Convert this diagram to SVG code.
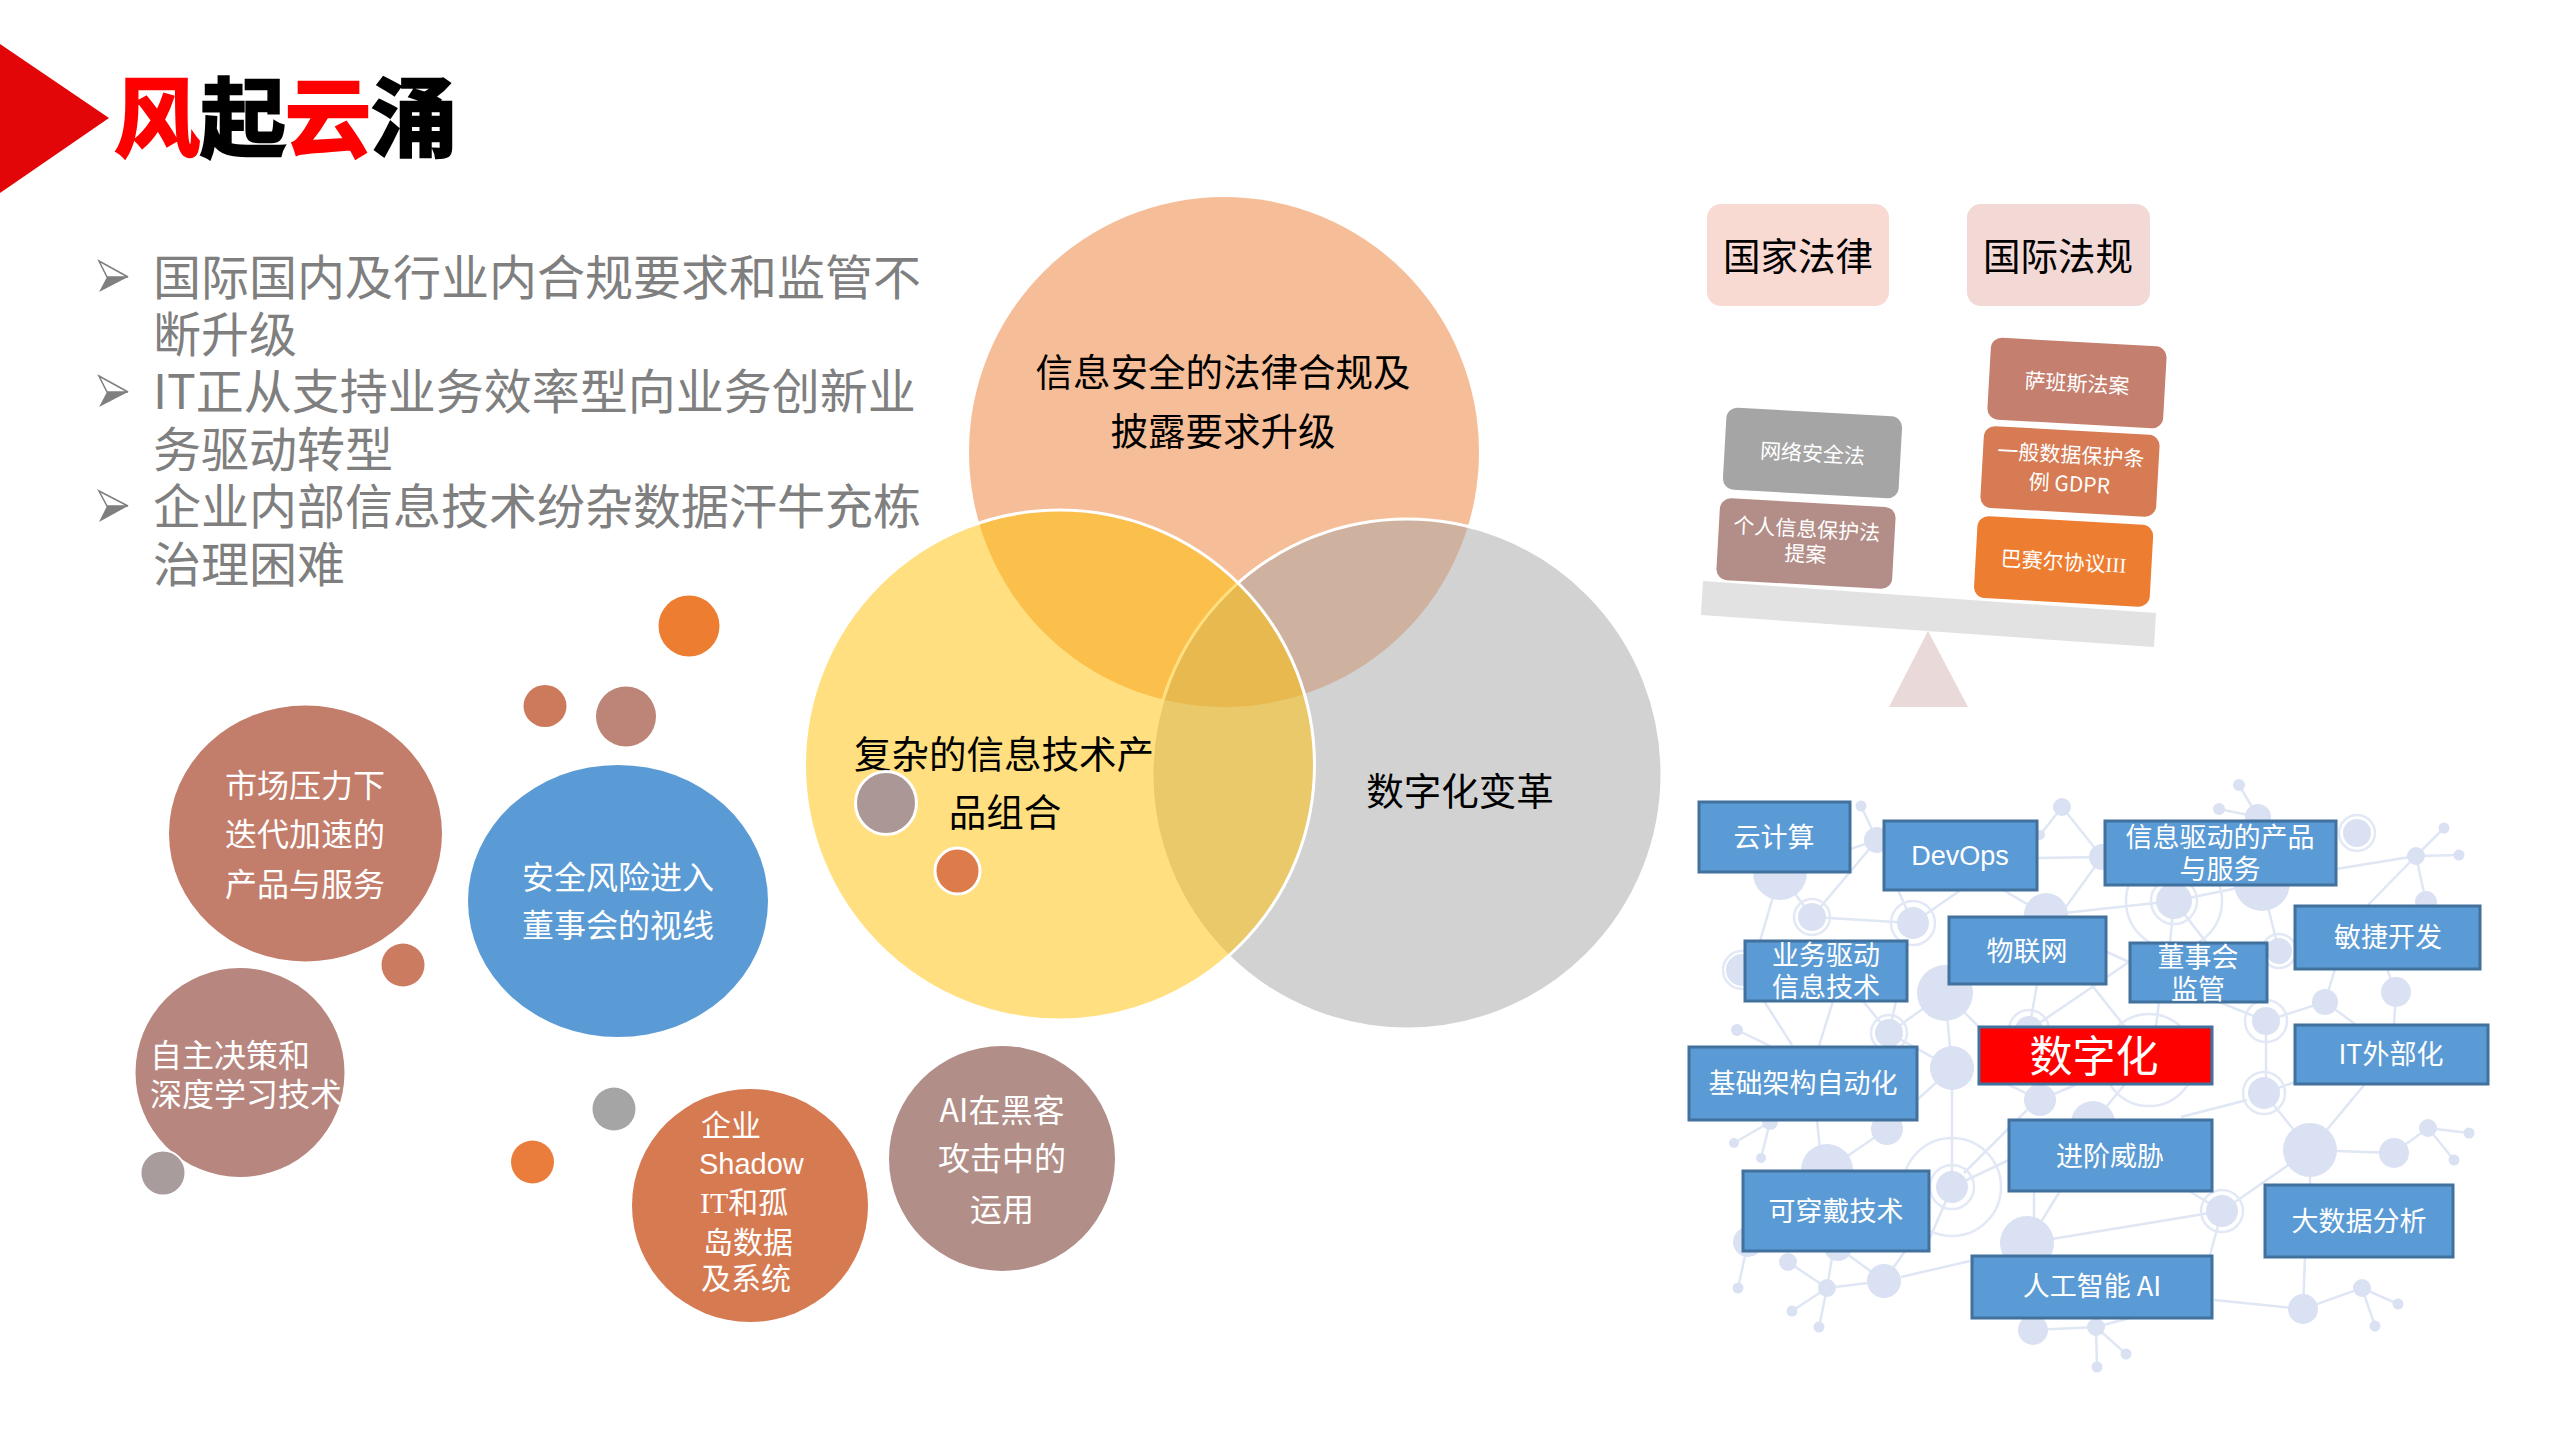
<svg xmlns="http://www.w3.org/2000/svg" width="2559" height="1439" viewBox="0 0 2559 1439">
<style>
text{font-family:"Noto Sans CJK SC","Noto Sans",sans-serif}
.lat{font-family:"Liberation Sans","Noto Sans CJK SC",sans-serif}
.b{font-size:48px;fill:#7f7f7f}
.w32{font-size:32px;fill:#fff;text-anchor:middle}
.w30{font-size:30px;fill:#fff}
.k{font-size:37.5px;fill:#000;text-anchor:middle}
.box rect{fill:#5b9bd5;stroke:#41719c;stroke-width:3}
.box text{font-size:27px;fill:#fff;text-anchor:middle}
.bal text{font-size:21px;fill:#fff;text-anchor:middle}
.net path{fill:none;stroke:#dfe6f4;stroke-width:2.5}
.net .n{fill:#d9e1f2}
.net .r{fill:none;stroke:#e2e8f5;stroke-width:2.5}
</style>
<rect width="2559" height="1439" fill="#fff"/>
<g id="header">
<polygon points="0,44 109,118 0,193" fill="#e30609"/>
<g font-size="86" font-weight="700" stroke-width="2.5">
<text x="114" y="150" fill="#f00" stroke="#f00">风</text>
<text x="200" y="150" fill="#000" stroke="#000">起</text>
<text x="285" y="150" fill="#f00" stroke="#f00">云</text>
<text x="371" y="150" fill="#000" stroke="#000">涌</text>
</g>
</g>
<g id="bullets">
<g id="bullet-1"><polygon points="99,261 128,277 107,277" fill="#fff" stroke="#7f7f7f" stroke-width="1.5"/><polygon points="99,292 128,277 107,277" fill="#7f7f7f"/></g>
<g id="bullet-2"><polygon points="99,376 128,392 107,392" fill="#fff" stroke="#7f7f7f" stroke-width="1.5"/><polygon points="99,407 128,392 107,392" fill="#7f7f7f"/></g>
<g id="bullet-3"><polygon points="99,491 128,506 107,506" fill="#fff" stroke="#7f7f7f" stroke-width="1.5"/><polygon points="99,522 128,506 107,506" fill="#7f7f7f"/></g>
<text class="b" x="153" y="295">国际国内及行业内合规要求和监管不</text>
<text class="b" x="153" y="352">断升级</text>
<text class="b" x="153" y="409">IT正从支持业务效率型向业务创新业</text>
<text class="b" x="153" y="467">务驱动转型</text>
<text class="b" x="153" y="524">企业内部信息技术纷杂数据汗牛充栋</text>
<text class="b" x="153" y="582">治理困难</text>
</g>
<g id="venn">
<circle id="venn-orange" cx="1224" cy="452" r="255" fill="#ed7d31" fill-opacity=".5"/>
<circle id="venn-gray" cx="1407" cy="774" r="255" fill="#a5a5a5" fill-opacity=".5"/>
<circle cx="1407" cy="774" r="255" fill="none" stroke="#fff" stroke-width="3"/>
<circle id="venn-yellow" cx="1059.5" cy="765" r="255" fill="#ffc000" fill-opacity=".5"/>
<circle cx="1059.5" cy="765" r="255" fill="none" stroke="#fff" stroke-width="3"/>
<text class="k" x="1223" y="386">信息安全的法律合规及</text>
<text class="k" x="1223" y="445">披露要求升级</text>
<text class="k" x="1004" y="768">复杂的信息技术产</text>
<text class="k" x="1005" y="826">品组合</text>
<text class="k" x="1460" y="805">数字化变革</text>
<ellipse cx="886" cy="803" rx="30.5" ry="31.5" fill="#ab9795" stroke="#fff" stroke-width="3"/>
<ellipse cx="957.5" cy="871" rx="22.5" ry="23" fill="#de7b4b" stroke="#fff" stroke-width="3"/>
</g>
<g id="bubbles">
<g id="bubble-market"><ellipse cx="305.5" cy="833.5" rx="136.5" ry="128" fill="#c37d6b"/>
<text class="w32" x="305" y="797">市场压力下</text><text class="w32" x="305" y="846">迭代加速的</text><text class="w32" x="305" y="896">产品与服务</text></g>
<g id="bubble-security"><ellipse cx="618" cy="901" rx="150" ry="136" fill="#5b9bd5"/>
<text class="w32" x="618" y="889">安全风险进入</text><text class="w32" x="618" y="937">董事会的视线</text></g>
<g id="bubble-auto"><circle cx="240" cy="1072.5" r="104.5" fill="#b7877f"/>
<text class="w32" style="text-anchor:start" x="150" y="1067">自主决策和</text><text class="w32" style="text-anchor:start" x="150" y="1106">深度学习技术</text></g>
<g id="bubble-shadow"><ellipse cx="750" cy="1205.5" rx="118" ry="116.5" fill="#d67a52"/>
<text class="w30" x="701" y="1136">企业</text><text class="w30 lat" x="699" y="1174" style="font-size:29px">Shadow</text><text class="w30" x="700" y="1213"><tspan font-family="Liberation Serif,serif">IT</tspan>和孤</text><text class="w30" x="703" y="1253">岛数据</text><text class="w30" x="701" y="1289">及系统</text></g>
<g id="bubble-ai"><ellipse cx="1002" cy="1158.5" rx="113" ry="112.5" fill="#b18e87"/>
<text class="w32" x="1002" y="1122">AI在黑客</text><text class="w32" x="1002" y="1170">攻击中的</text><text class="w32" x="1002" y="1221">运用</text></g>
<circle cx="689" cy="626" r="30.5" fill="#ed7d31"/>
<ellipse cx="545" cy="706" rx="21.5" ry="21" fill="#cd7a5c"/>
<ellipse cx="626" cy="716.5" rx="30" ry="30" fill="#bd8478"/>
<ellipse cx="403" cy="965" rx="21.5" ry="21.5" fill="#cb7b60"/>
<ellipse cx="163" cy="1173" rx="22.5" ry="22.5" fill="#a89c9c" stroke="#fff" stroke-width="2"/>
<circle cx="614" cy="1109" r="21.5" fill="#a5a5a5"/>
<circle cx="532.5" cy="1162" r="21.5" fill="#ea7d3c"/>
</g>
<g id="balance" class="bal">
<g id="law-national"><rect x="1707" y="204" width="182" height="102" rx="14" fill="#f8dad3"/><text x="1798" y="270" style="font-size:37.5px;fill:#000">国家法律</text></g>
<g id="law-intl"><rect x="1967" y="204" width="183" height="102" rx="14" fill="#f2d9d5"/><text x="2058" y="270" style="font-size:37.5px;fill:#000">国际法规</text></g>
<polygon id="fulcrum" points="1928,631 1968,707 1889,707" fill="#ead9d9"/>
<polygon id="beam" points="1703,581 2156,613 2154,647 1701,615" fill="#e2e2e2"/>
<g id="law-1" transform="translate(1812.5 453) rotate(3.2)"><rect x="-88" y="-41" width="176" height="82" rx="11" fill="#a5a5a5"/><text y="8">网络安全法</text></g>
<g id="law-2" transform="translate(1806 543.6) rotate(3.2)"><rect x="-88" y="-41" width="176" height="82" rx="11" fill="#b38e88"/><text y="-7">个人信息保护法</text><text y="18">提案</text></g>
<g id="law-3" transform="translate(2077 383) rotate(3.2)"><rect x="-88" y="-41" width="176" height="82" rx="11" fill="#c47f6e"/><text y="8">萨班斯法案</text></g>
<g id="law-4" transform="translate(2070 471.4) rotate(3.2)"><rect x="-88" y="-41" width="176" height="82" rx="11" fill="#d67b53"/><text y="-9">一般数据保护条</text><text y="20">例 GDPR</text></g>
<g id="law-5" transform="translate(2063.6 561.4) rotate(3.2)"><rect x="-88" y="-41" width="176" height="82" rx="11" fill="#ed7d31"/><text y="8">巴赛尔协议<tspan font-family="Liberation Serif,serif">III</tspan></text></g>
</g>
<g id="connectors" class="net">
<path d="M1861 806L1877 840L1780 873L1812 917L1877 840M1780 873L1760 941M1812 917L1913 923M1898 890L1913 923L2040 835L2062 807L2102 857L2037 858M2102 857L2060 915M2003 890L2046 915L2174 901L2262 883M2336 869L2416 856L2444 828M2416 856L2459 855M2416 856L2426 902M2416 856L2368 905M2239 785L2258 817L2262 883L2279 951M2219 809L2258 817M2174 901L2206 942M2174 901L2170 942M2387 969L2396 992L2394 1024M2335 969L2325 1002L2266 1021L2219 1002M2325 1002L2355 1024M2266 1021L2266 1093M1945 993L1889 1033L1952 1068L1945 993L1979 1027M1764 1001L1792 1045M1833 1001L1819 1046M1863 1001L1889 1033L1896 1001M1737 1030L1770 1046M2037 984L2029 1030L2129 962M2091 984L2125 1027M2159 1002L2156 1027M2107 952L2129 962M2005 1083L2040 1100L2080 1083M2027 1110L1964 1173M2125 1084L2093 1123M2247 1100L2181 1117M2264 1093L2295 1082M2264 1093L2310 1150L2365 1084M2310 1150L2394 1153L2428 1128L2469 1133M2428 1128L2454 1160M2310 1150L2222 1211M2310 1150L2310 1185M1952 1068L1952 1187L2009 1160M1952 1068L1917 1100M1770 1122L1734 1143M1770 1122L1761 1158M1887 1129L1827 1170M1817 1120L1822 1170M1952 1187L1929 1240M2189 1191L2222 1211L2027 1243M2222 1211L2210 1255M2034 1191L2034 1220M2060 1191L2041 1222M2214 1300L2303 1309L2362 1288L2398 1304M2362 1288L2375 1326M2303 1309L2305 1257M1901 1277L1970 1261M1884 1281L1827 1288L1788 1262M1827 1288L1792 1311M1827 1288L1819 1327M1827 1288L1833 1251M1884 1281L1843 1251M1884 1281L1905 1251M1748 1242L1738 1288M2033 1330L2096 1327L2126 1354M2096 1327L2097 1367M2096 1327L2130 1318"/>
<g class="r" id="rings">
<circle cx="2357" cy="833" r="18"/><circle cx="1812" cy="917" r="18"/><circle cx="1913" cy="923" r="22"/><circle cx="2174" cy="901" r="23"/><circle cx="2174" cy="901" r="48"/><circle cx="2279" cy="951" r="17"/><circle cx="1742" cy="970" r="19"/><circle cx="2266" cy="1021" r="21"/><circle cx="1889" cy="1033" r="18"/><circle cx="2029" cy="1030" r="20"/><circle cx="2149" cy="1060" r="46"/><circle cx="2264" cy="1093" r="21"/><circle cx="1952" cy="1187" r="22"/><circle cx="1952" cy="1187" r="49"/><circle cx="2222" cy="1211" r="21"/>
</g>
<g class="n" id="dots">
<circle cx="2239" cy="785" r="6"/><circle cx="2258" cy="817" r="13"/><circle cx="2219" cy="809" r="6"/><circle cx="2262" cy="883" r="28"/><circle cx="2357" cy="833" r="14"/><circle cx="2444" cy="828" r="5.5"/><circle cx="2416" cy="856" r="9"/><circle cx="2459" cy="855" r="5.5"/><circle cx="2426" cy="902" r="11"/><circle cx="1861" cy="806" r="5.5"/><circle cx="1877" cy="840" r="13"/><circle cx="2062" cy="807" r="9"/><circle cx="2040" cy="835" r="5"/><circle cx="2102" cy="857" r="13"/><circle cx="1780" cy="873" r="27"/><circle cx="1812" cy="917" r="14"/><circle cx="1913" cy="923" r="16"/><circle cx="2046" cy="915" r="22"/><circle cx="2174" cy="901" r="18"/><circle cx="2279" cy="951" r="13"/><circle cx="1742" cy="970" r="16"/><circle cx="1945" cy="993" r="28"/><circle cx="2325" cy="1002" r="13"/><circle cx="2396" cy="992" r="15"/><circle cx="2266" cy="1021" r="14"/><circle cx="1889" cy="1033" r="14"/><circle cx="2029" cy="1030" r="14"/><circle cx="2149" cy="1060" r="16"/><circle cx="1737" cy="1030" r="6"/><circle cx="1952" cy="1068" r="22"/><circle cx="2040" cy="1100" r="16"/><circle cx="2264" cy="1093" r="16"/><circle cx="1770" cy="1122" r="8"/><circle cx="1734" cy="1143" r="5"/><circle cx="1761" cy="1158" r="5"/><circle cx="1887" cy="1129" r="16"/><circle cx="1827" cy="1170" r="26"/><circle cx="2093" cy="1123" r="22"/><circle cx="2310" cy="1150" r="27"/><circle cx="2394" cy="1153" r="15"/><circle cx="2428" cy="1128" r="9"/><circle cx="2469" cy="1133" r="5.5"/><circle cx="2454" cy="1160" r="5.5"/><circle cx="1952" cy="1187" r="16"/><circle cx="2222" cy="1211" r="16"/><circle cx="2027" cy="1243" r="27"/><circle cx="1748" cy="1242" r="15"/><circle cx="1788" cy="1262" r="9"/><circle cx="1838" cy="1247" r="14"/><circle cx="1884" cy="1281" r="17"/><circle cx="1827" cy="1288" r="9"/><circle cx="1738" cy="1288" r="5.5"/><circle cx="1792" cy="1311" r="5.5"/><circle cx="1819" cy="1327" r="5.5"/><circle cx="2033" cy="1330" r="15"/><circle cx="2096" cy="1327" r="9"/><circle cx="2126" cy="1354" r="5.5"/><circle cx="2097" cy="1367" r="5.5"/><circle cx="2303" cy="1309" r="15"/><circle cx="2362" cy="1288" r="9"/><circle cx="2398" cy="1304" r="5.5"/><circle cx="2375" cy="1326" r="5.5"/>
</g>
</g>
<g id="digital-boxes" class="box">
<g id="n-cloud"><rect x="1699" y="802" width="151" height="70"/><text x="1774" y="847">云计算</text></g>
<g id="n-devops"><rect x="1884" y="821" width="153" height="69"/><text class="lat" x="1960" y="865">DevOps</text></g>
<g id="n-info"><rect x="2105" y="821" width="231" height="64"/><text x="2220" y="847">信息驱动的产品</text><text x="2220" y="879">与服务</text></g>
<g id="n-agile"><rect x="2295" y="906" width="185" height="63"/><text x="2388" y="947">敏捷开发</text></g>
<g id="n-biz"><rect x="1745" y="941" width="162" height="60"/><text x="1826" y="965">业务驱动</text><text x="1826" y="997">信息技术</text></g>
<g id="n-iot"><rect x="1949" y="917" width="157" height="67"/><text x="2027" y="961">物联网</text></g>
<g id="n-board"><rect x="2130" y="943" width="137" height="59"/><text x="2198" y="967">董事会</text><text x="2198" y="999">监管</text></g>
<g id="n-digital"><rect x="1979" y="1027" width="233" height="57" style="fill:#f00"/><text x="2094" y="1072" style="font-size:43px">数字化</text></g>
<g id="n-itout"><rect x="2295" y="1025" width="193" height="59"/><text x="2391" y="1064">IT外部化</text></g>
<g id="n-infra"><rect x="1689" y="1047" width="228" height="73"/><text x="1803" y="1093">基础架构自动化</text></g>
<g id="n-apt"><rect x="2009" y="1120" width="203" height="71"/><text x="2110" y="1166">进阶威胁</text></g>
<g id="n-wear"><rect x="1743" y="1171" width="186" height="80"/><text x="1836" y="1221">可穿戴技术</text></g>
<g id="n-bigdata"><rect x="2265" y="1185" width="188" height="72"/><text x="2359" y="1231">大数据分析</text></g>
<g id="n-ai"><rect x="1972" y="1256" width="240" height="62"/><text x="2092" y="1296">人工智能 AI</text></g>
</g>
</svg>
